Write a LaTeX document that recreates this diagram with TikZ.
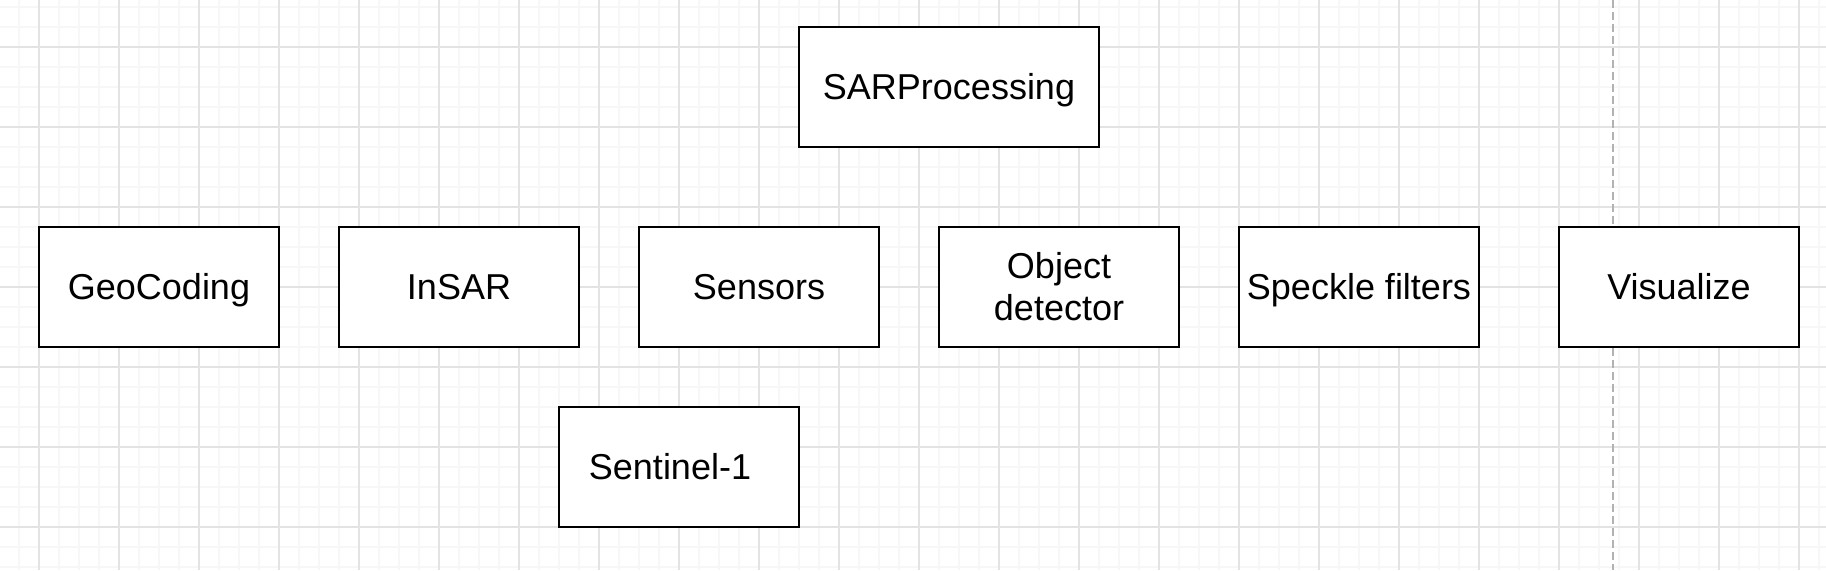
\documentclass[tikz,border=0pt]{standalone}
\usepackage{fontspec}
\setmainfont{Liberation Sans}
\begin{document}
\begin{tikzpicture}[x=0.5pt,y=-0.5pt,
  minorline/.style={draw=black!3,line width=0.65pt},
  majorline/.style={draw=black!11,line width=0.8pt},
  divider/.style={draw=black!30,line width=0.85pt,dash pattern=on 4pt off 2pt},
  box/.style={draw=black,line width=0.9pt,fill=white,minimum width=120pt,minimum height=60pt,
    inner sep=0pt,align=center,font=\fontsize{18}{21}\selectfont},
  oneline/.style={text height=16.6pt,text depth=3.8pt}]
\useasboundingbox[fill=white] (0,0) rectangle (1826,570);
% grid
\foreach \x in {-1,19,...,1839} \draw[minorline] (\x,0) -- (\x,570);
\foreach \y in {7,27,...,567} \draw[minorline] (0,\y) -- (1826,\y);
\foreach \x in {39,119,...,1799} \draw[majorline] (\x,0) -- (\x,570);
\foreach \y in {47,127,...,527} \draw[majorline] (0,\y) -- (1826,\y);
% divider
\coordinate (dtop) at (1613,0);
\coordinate (dbot) at (1613,570);
\draw[divider] (dtop) -- (dbot);
% boxes
\node[box,oneline,minimum width=150pt] (sar) at (949,87) {SARProcessing};
\node[box,oneline] (geo) at (159,287) {GeoCoding};
\node[box,oneline] (insar) at (459,287) {InSAR};
\node[box,oneline] (sensors) at (759,287) {Sensors};
\node[box,text depth=1pt] (obj) at (1059,287) {Object\\detector};
\node[box,oneline] (speckle) at (1359,287) {Speckle filters};
\node[box,oneline] (vis) at (1679,287) {Visualize};
\node[box,oneline] (sentinel) at (679,467) {Sentinel-1\hspace*{9pt}};
\end{tikzpicture}
\end{document}
